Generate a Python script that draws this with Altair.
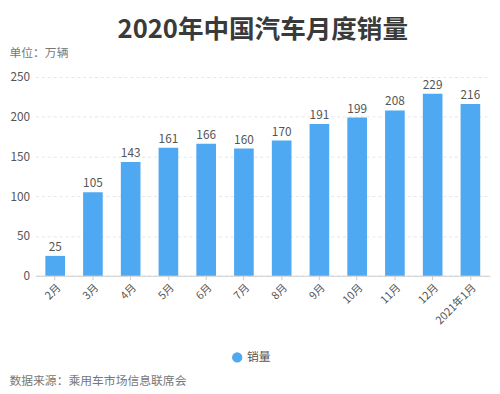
import altair as alt
import pandas as pd

months = ["2月", "3月", "4月", "5月", "6月", "7月", "8月", "9月", "10月", "11月", "12月", "2021年1月"]
sales = [25, 105, 143, 161, 166, 160, 170, 191, 199, 208, 229, 216]
series = "销量"

df = pd.DataFrame({"month": months, "sales": sales, "series": [series] * len(months)})

FONT = "Noto Sans CJK SC"
BLUE = "#4ea8f2"

base = alt.Chart(df).encode(
    x=alt.X("month:N", sort=months,
            scale=alt.Scale(paddingInner=0.48, paddingOuter=0.26),
            axis=alt.Axis(title="数据来源：乘用车市场信息联席会", labelAngle=-45,
                          labelAlign="right", labelBaseline="top", labelFontSize=11,
                          labelColor="#555", domainColor="#cccccc", tickColor="#cccccc",
                          tickSize=4, titleX=-27, titleY=107, titleAlign="left",
                          titleBaseline="middle", titleFontWeight="normal",
                          titleFontSize=12, titleColor="#777", titleAngle=0)),
    y=alt.Y("sales:Q", scale=alt.Scale(domain=[0, 250]),
            axis=alt.Axis(values=[0, 50, 100, 150, 200, 250], title="单位：万辆",
                          titleAngle=0, titleX=-27, titleY=-25, titleAlign="left",
                          titleBaseline="middle", titleFontWeight="normal",
                          titleFontSize=12, titleColor="#777",
                          labelFontSize=12, labelColor="#555", labelPadding=6,
                          domain=False, ticks=False, gridColor="#e6e6e6",
                          gridDash=[3, 3])),
)

bars = base.mark_bar(color=BLUE).encode(
    color=alt.Color("series:N", scale=alt.Scale(range=[BLUE]),
                    legend=alt.Legend(title=None, orient="none", legendX=199, legendY=279,
                                      symbolType="circle", symbolSize=110,
                                      labelFontSize=12, labelColor="#555", symbolOpacity=1))
)
labels = base.mark_text(dy=-9, fontSize=12, color="#555", font=FONT).encode(text="sales:Q")

chart = alt.layer(bars, labels).properties(
    width=462, height=202,
    title=alt.TitleParams("2020年中国汽车月度销量", fontSize=26, fontWeight="bold",
                          color="#3a3a3a", anchor="middle", offset=4, font=FONT),
    autosize=alt.AutoSizeParams(type="none"),
    padding={"left": 28, "top": 67, "right": 2, "bottom": 115},
).configure(font=FONT).configure_view(stroke=None)

chart.save("out.html", embed_options={"renderer": "svg", "actions": False})
